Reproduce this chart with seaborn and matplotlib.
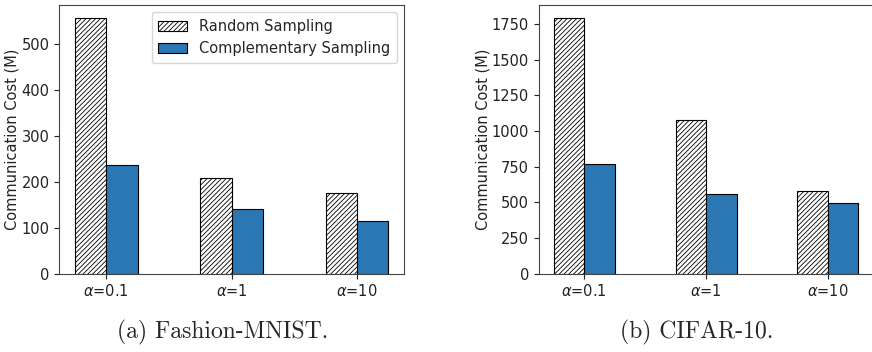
import matplotlib
matplotlib.use("Agg")
import matplotlib.pyplot as plt
import seaborn as sns
import pandas as pd
from matplotlib.patches import Patch

categories = [r"$\alpha$=0.1", r"$\alpha$=1", r"$\alpha$=10"]
methods = ["Random Sampling", "Complementary Sampling"]
fmnist_random = [558, 208, 176]
fmnist_comp = [236, 141, 115]
cifar_random = [1795, 1076, 583]
cifar_comp = [770, 557, 494]
captions = ["(a) Fashion-MNIST.", "(b) CIFAR-10."]
ylabel = "Communication Cost (M)"

sns.set_theme(style="ticks")
plt.rcParams["font.family"] = ["DejaVu Sans"]
plt.rcParams["hatch.linewidth"] = 0.6

BLUE = "#2a77b4"
HATCH = "///////"
FS = 10.5

def make_df(r, c):
    rows = []
    for cat, v in zip(categories, r):
        rows.append({"cat": cat, "method": methods[0], "val": v})
    for cat, v in zip(categories, c):
        rows.append({"cat": cat, "method": methods[1], "val": v})
    return pd.DataFrame(rows)

fig = plt.figure(figsize=(8.72, 3.52), dpi=100)
ax1 = fig.add_axes([59.3 / 872, 78.3 / 352, (404 - 59.3) / 872, 268.7 / 352])
ax2 = fig.add_axes([538.7 / 872, 78.3 / 352, (873.5 - 538.7) / 872, 268.7 / 352])

for ax, (r, c) in zip([ax1, ax2], [(fmnist_random, fmnist_comp), (cifar_random, cifar_comp)]):
    df = make_df(r, c)
    sns.barplot(data=df, x="cat", y="val", hue="method", hue_order=methods,
                palette=["white", BLUE], width=0.5, edgecolor="black",
                linewidth=0.8, ax=ax, legend=False, saturation=1)
    n = len(categories)
    for p in ax.patches[:n]:
        p.set_hatch(HATCH)
        p.set_facecolor("white")
        p.set_edgecolor("black")
    ax.set_xlabel("")
    ax.set_ylabel(ylabel, fontsize=FS, color="#222222")
    ax.tick_params(axis="both", labelsize=FS, colors="#222222", length=3.5, width=0.8)
    for s in ax.spines.values():
        s.set_visible(True)
        s.set_linewidth(0.8)
        s.set_color("#444444")
    ax.set_xlim(-0.375, 2.375)

ax1.yaxis.set_label_coords((19.5 - 59.3) / 344.7, 0.5)
ax2.yaxis.set_label_coords((490 - 538.7) / 334.8, 0.5)

handles = [Patch(facecolor="white", edgecolor="black", hatch=HATCH, linewidth=0.8),
           Patch(facecolor=BLUE, edgecolor="black", linewidth=0.8)]
ax1.legend(handles, methods, loc="upper right", fontsize=FS, frameon=True,
           handlelength=2.0, borderpad=0.45, labelspacing=0.5)

fig.text(222.5 / 872, 1 - 338 / 352, captions[0], family="cmr10", fontsize=17,
         ha="center", va="baseline")
fig.text(697 / 872, 1 - 338 / 352, captions[1], family="cmr10", fontsize=17,
         ha="center", va="baseline")

fig.savefig("out.png", dpi=100)
